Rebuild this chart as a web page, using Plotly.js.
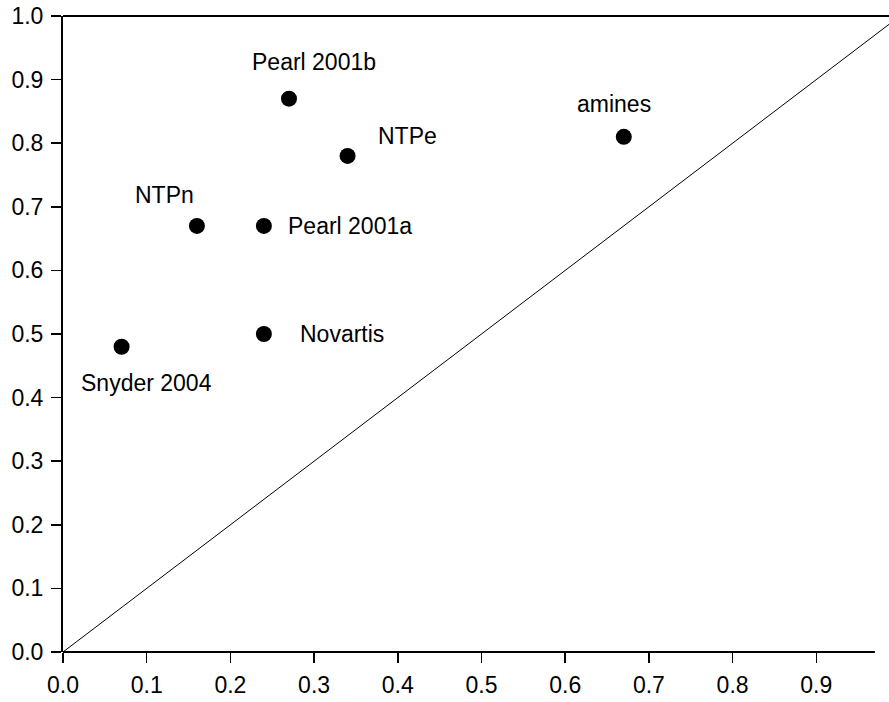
<!DOCTYPE html>
<html>
<head>
<meta charset="utf-8">
<script src="https://cdn.plot.ly/plotly-3.0.1.min.js"></script>
<style>
html, body { margin: 0; padding: 0; overflow: hidden; background: #fff; }
#chart { width: 905px; height: 702px; }
</style>
</head>
<body>
<div id="chart"></div>
<script>
// Data
const labels = ["Pearl 2001b", "NTPe", "amines", "NTPn", "Pearl 2001a", "Novartis", "Snyder 2004"];
const xValues = [0.27, 0.34, 0.67, 0.16, 0.24, 0.24, 0.07];
const yValues = [0.87, 0.78, 0.81, 0.67, 0.67, 0.50, 0.48];
const tickValues = [0, 0.1, 0.2, 0.3, 0.4, 0.5, 0.6, 0.7, 0.8, 0.9];
const tickLabels = ["0.0", "0.1", "0.2", "0.3", "0.4", "0.5", "0.6", "0.7", "0.8", "0.9"];
const yTickValues = [0, 0.1, 0.2, 0.3, 0.4, 0.5, 0.6, 0.7, 0.8, 0.9, 1.0];
const yTickLabels = ["0.0", "0.1", "0.2", "0.3", "0.4", "0.5", "0.6", "0.7", "0.8", "0.9", "1.0"];
const diagX = [0, 1];
const diagY = [0, 1];
const xAxisEnd = 0.97;

// label placement (styling only): [xanchor, xshift, yshift]
const labelStyle = {
  "Pearl 2001b": ["center", 25, 37],
  "NTPe": ["center", 60, 20],
  "amines": ["center", -10, 33],
  "NTPn": ["center", -32, 31],
  "Pearl 2001a": ["left", 22, 0],
  "Novartis": ["left", 34, 0],
  "Snyder 2004": ["center", 25, -36]
};

const FONT = "Liberation Sans, Arial, sans-serif";

const traces = [
  {
    x: diagX, y: diagY, mode: "lines", type: "scatter",
    line: { color: "#000", width: 1 }, hoverinfo: "skip", showlegend: false
  },
  {
    x: xValues, y: yValues, mode: "markers", type: "scatter",
    marker: { color: "#000", size: 16, symbol: "circle" },
    text: labels, showlegend: false, cliponaxis: false
  }
];

const annotations = labels.map((t, i) => ({
  x: xValues[i], y: yValues[i], xref: "x", yref: "y",
  text: t, showarrow: false,
  xanchor: labelStyle[t][0], yanchor: "middle",
  xshift: labelStyle[t][1], yshift: labelStyle[t][2],
  font: { family: FONT, size: 23, color: "#000" }
}));

const layout = {
  width: 905, height: 702,
  margin: { l: 63, r: 5, t: 16, b: 50, pad: 0 },
  paper_bgcolor: "#fff", plot_bgcolor: "#fff",
  font: { family: FONT, size: 23, color: "#000" },
  showlegend: false,
  xaxis: {
    range: [0, 1], showgrid: false, zeroline: false, showline: false,
    tickmode: "array", tickvals: tickValues, ticktext: tickLabels,
    ticks: "outside", ticklen: 10, tickwidth: 1.5, tickcolor: "#000",
    ticklabelstandoff: 2,
    tickfont: { family: FONT, size: 23, color: "#000" }
  },
  yaxis: {
    range: [0, 1], showgrid: false, zeroline: false,
    showline: true, linecolor: "#000", linewidth: 2, mirror: false,
    tickmode: "array", tickvals: yTickValues, ticktext: yTickLabels,
    ticks: "outside", ticklen: 10, tickwidth: 1.5, tickcolor: "#000",
    ticklabelstandoff: 3,
    tickfont: { family: FONT, size: 23, color: "#000" }
  },
  shapes: [
    { type: "line", xref: "x", yref: "paper", x0: 0, x1: xAxisEnd, y0: 0, y1: 0,
      line: { color: "#000", width: 2 } },
    { type: "line", xref: "paper", yref: "paper", x0: 0, x1: 1, y0: 1, y1: 1,
      line: { color: "#000", width: 2 } }
  ],
  annotations: annotations
};

Plotly.newPlot("chart", traces, layout, { displayModeBar: false, staticPlot: true });
</script>
</body>
</html>
